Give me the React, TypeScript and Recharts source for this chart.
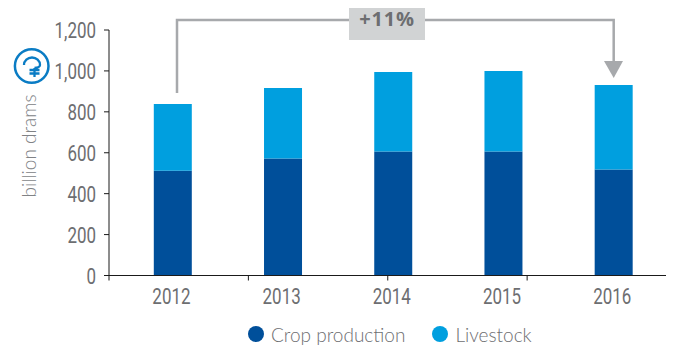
import { BarChart, Bar, XAxis, YAxis, Legend } from 'recharts'

const years = ['2012', '2013', '2014', '2015', '2016']
const cropProduction = [512, 572, 606, 606, 518]
const livestock = [326, 345, 389, 394, 413]
const yTicks = [0, 200, 400, 600, 800, 1000, 1200]
const xTickMarks = [0, 1, 2, 3, 4, 5]

const rows = years.map((year, i) => ({
  year,
  crop: cropProduction[i],
  livestock: livestock[i],
}))

const TICK_FONT = 'Roboto, sans-serif'
const TEXT_GREY = '#6d6e71'
const GREY_LINE = '#a7a9ac'
const CROP = '#004f9a'
const LIVE = '#009fdf'

// no condensed face is installed, so squeeze Roboto horizontally
function NarrowText({ x, y, anchor, children }: { x: number; y: number; anchor: 'middle' | 'end'; children: string }) {
  return (
    <text
      transform={`translate(${x} ${y}) scale(0.77 1)`}
      textAnchor={anchor}
      fill={TEXT_GREY}
      fontSize={22}
      fontFamily={TICK_FONT}
    >
      {children}
    </text>
  )
}

// eslint-disable-next-line @typescript-eslint/no-explicit-any
function YearTick({ x, y, payload }: any) {
  return (
    <NarrowText x={x - 1.5} y={y + 19} anchor="middle">
      {payload.value}
    </NarrowText>
  )
}

// eslint-disable-next-line @typescript-eslint/no-explicit-any
function ValueTick({ y, payload }: any) {
  return (
    <NarrowText x={96} y={y + 8} anchor="end">
      {Number(payload.value).toLocaleString('en-US')}
    </NarrowText>
  )
}

// keeps the tick lines of the marks axis, with no label
function NoLabel() {
  return <g />
}

function LegendDot({ color, label, gap }: { color: string; label: string; gap: number }) {
  return (
    <span style={{ display: 'flex', alignItems: 'center', marginRight: gap }}>
      <span style={{ width: 16, height: 16, borderRadius: 8, background: color, marginRight: 7 }} />
      <span style={{ color: TEXT_GREY }}>{label}</span>
    </span>
  )
}

function ChartLegend() {
  return (
    <div
      style={{
        position: 'absolute',
        left: 248,
        top: 322,
        display: 'flex',
        height: 24,
        alignItems: 'center',
        whiteSpace: 'nowrap',
        fontFamily: 'Lato, sans-serif',
        fontWeight: 300,
        fontSize: 19,
      }}
    >
      <LegendDot color={CROP} label="Crop production" gap={27} />
      <LegendDot color={LIVE} label="Livestock" gap={0} />
    </div>
  )
}

function Overlay() {
  return (
    <svg width={674} height={345} style={{ position: 'absolute', left: 0, top: 0, pointerEvents: 'none' }}>
      <path d="M177 93 V20 H613.7 V64" fill="none" stroke={GREY_LINE} strokeWidth={2.5} />
      <path d="M604 61 H623 L613.7 78 Z" fill={GREY_LINE} />
      <rect x={349} y={1} width={76} height={39} fill="#d1d3d4" />
      <text
        x={387}
        y={26}
        textAnchor="middle"
        fontSize={20}
        fontWeight={700}
        letterSpacing={0.8}
        fill={TEXT_GREY}
        fontFamily="'Open Sans', sans-serif"
      >
        +11%
      </text>
      <text
        transform="translate(36 146) rotate(-90)"
        textAnchor="middle"
        fontSize={19}
        fontWeight={300}
        fill="#808285"
        fontFamily="Lato, sans-serif"
      >
        billion drams
      </text>
      {/* dram sign badge */}
      <circle cx={31.7} cy={66} r={16.8} fill="#fff" stroke="#0a7cc4" strokeWidth={2.5} />
      <path
        d="M24 65 a8 7.5 0 0 1 16 0 q0 2.5 -5.5 3 M34.5 68 V77 M29.5 70 H39.5 M29.5 73.5 H39.5"
        fill="none"
        stroke="#0a7cc4"
        strokeWidth={2.3}
      />
    </svg>
  )
}

export default function App() {
  return (
    <div style={{ position: 'relative', width: 674, height: 345, margin: '-8px -8px 0' }}>
      <BarChart
        width={674}
        height={345}
        data={rows}
        barSize={38}
        margin={{ top: 30, right: 7.5, left: 0, bottom: 0 }}
      >
        {/* tick marks fall on their own even spacing, offset from the bars */}
        <XAxis
          xAxisId="marks"
          type="number"
          domain={[0, 5]}
          ticks={xTickMarks}
          height={1}
          stroke="#1a1a1a"
          tickSize={5}
          tick={<NoLabel />}
        />
        <XAxis
          xAxisId="years"
          dataKey="year"
          height={68.5}
          axisLine={false}
          tickLine={false}
          tick={<YearTick />}
          interval={0}
          padding={{ left: 8.8, right: -2.4 }}
        />
        <YAxis
          width={109}
          domain={[0, 1200]}
          ticks={yTicks}
          stroke="#1a1a1a"
          tickSize={5}
          tick={<ValueTick />}
        />
        <Legend
          verticalAlign="bottom"
          content={<ChartLegend />}
          wrapperStyle={{ left: 0, top: 0, bottom: 'auto', width: 0, height: 0 }}
        />
        <Bar xAxisId="years" dataKey="crop" name="Crop production" stackId="a" fill={CROP} isAnimationActive={false} />
        <Bar xAxisId="years" dataKey="livestock" name="Livestock" stackId="a" fill={LIVE} isAnimationActive={false} />
      </BarChart>
      <Overlay />
    </div>
  )
}
